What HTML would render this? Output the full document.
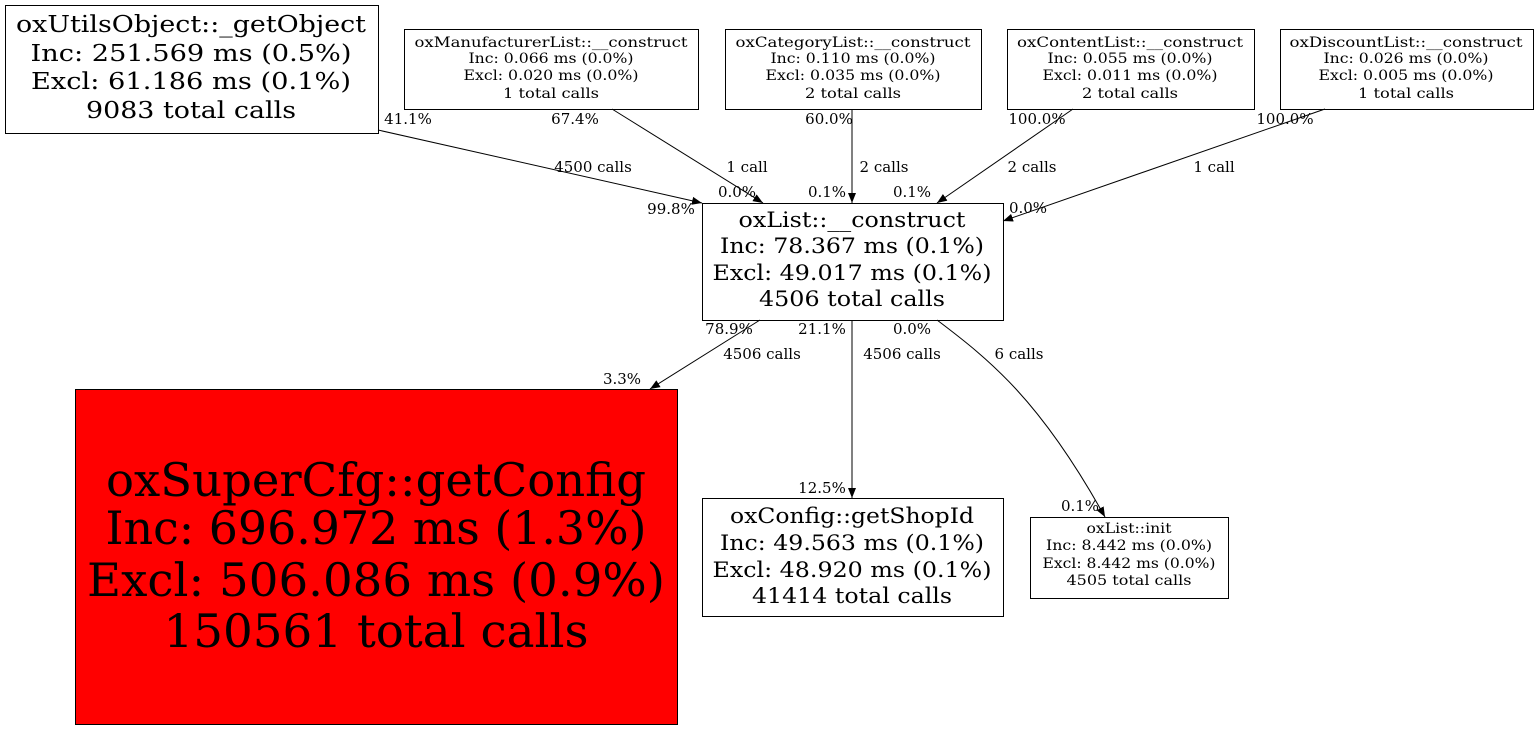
<!DOCTYPE html>
<html><head><meta charset="utf-8"><style>
html,body{margin:0;padding:0;background:#fff;}
svg{display:block;}
text{font-family:"DejaVu Serif","Liberation Serif",serif;fill:#000;}
</style></head><body>
<svg width="1539" height="731" viewBox="0 0 1539 731" xmlns="http://www.w3.org/2000/svg">
<defs><marker id="a" viewBox="0 0 10 10" refX="10" refY="5" markerWidth="10" markerHeight="10" markerUnits="userSpaceOnUse" orient="auto"><path d="M0,1 L10,5 L0,9 z" fill="#000"/></marker></defs>
<g fill="none" stroke="#000" stroke-width="1">
<rect x="5.5" y="5.5" width="373" height="128" fill="#fff"/>
<rect x="404.5" y="29.5" width="294" height="80" fill="#fff"/>
<rect x="725.5" y="29.5" width="256" height="80" fill="#fff"/>
<rect x="1007.5" y="29.5" width="247" height="80" fill="#fff"/>
<rect x="1280.5" y="29.5" width="253" height="80" fill="#fff"/>
<rect x="702.5" y="203.5" width="301" height="117" fill="#fff"/>
<rect x="75.5" y="389.5" width="602" height="335" fill="#ff0000"/>
<rect x="702.5" y="498.5" width="301" height="118" fill="#fff"/>
<rect x="1030.5" y="517.5" width="198" height="81" fill="#fff"/>
<path d="M378,130 L702,203" marker-end="url(#a)"/>
<path d="M612,109 L763,203" marker-end="url(#a)"/>
<path d="M852,109 L852,203" marker-end="url(#a)"/>
<path d="M1073,109 L937,203" marker-end="url(#a)"/>
<path d="M1325,109 L1003,221" marker-end="url(#a)"/>
<path d="M760,320 L650,389" marker-end="url(#a)"/>
<path d="M852,320 L852,498" marker-end="url(#a)"/>
<path d="M937,320 C990,360 1040,400 1105,517" marker-end="url(#a)"/>
</g>
<g text-anchor="middle">
<g font-size="23">
<text x="191" y="32" textLength="350" lengthAdjust="spacingAndGlyphs">oxUtilsObject::_getObject</text>
<text x="191" y="61" textLength="321" lengthAdjust="spacingAndGlyphs">Inc: 251.569 ms (0.5%)</text>
<text x="191" y="89" textLength="320" lengthAdjust="spacingAndGlyphs">Excl: 61.186 ms (0.1%)</text>
<text x="191" y="118" textLength="210" lengthAdjust="spacingAndGlyphs">9083 total calls</text></g>
<g font-size="14">
<text x="551" y="47" textLength="273" lengthAdjust="spacingAndGlyphs">oxManufacturerList::__construct</text>
<text x="551" y="63" textLength="165" lengthAdjust="spacingAndGlyphs">Inc: 0.066 ms (0.0%)</text>
<text x="551" y="80" textLength="175" lengthAdjust="spacingAndGlyphs">Excl: 0.020 ms (0.0%)</text>
<text x="551" y="98" textLength="96" lengthAdjust="spacingAndGlyphs">1 total calls</text>
<text x="853" y="47" textLength="235" lengthAdjust="spacingAndGlyphs">oxCategoryList::__construct</text>
<text x="853" y="63" textLength="165" lengthAdjust="spacingAndGlyphs">Inc: 0.110 ms (0.0%)</text>
<text x="853" y="80" textLength="175" lengthAdjust="spacingAndGlyphs">Excl: 0.035 ms (0.0%)</text>
<text x="853" y="98" textLength="96" lengthAdjust="spacingAndGlyphs">2 total calls</text>
<text x="1130" y="47" textLength="226" lengthAdjust="spacingAndGlyphs">oxContentList::__construct</text>
<text x="1130" y="63" textLength="165" lengthAdjust="spacingAndGlyphs">Inc: 0.055 ms (0.0%)</text>
<text x="1130" y="80" textLength="175" lengthAdjust="spacingAndGlyphs">Excl: 0.011 ms (0.0%)</text>
<text x="1130" y="98" textLength="96" lengthAdjust="spacingAndGlyphs">2 total calls</text>
<text x="1406" y="47" textLength="233" lengthAdjust="spacingAndGlyphs">oxDiscountList::__construct</text>
<text x="1406" y="63" textLength="165" lengthAdjust="spacingAndGlyphs">Inc: 0.026 ms (0.0%)</text>
<text x="1406" y="80" textLength="175" lengthAdjust="spacingAndGlyphs">Excl: 0.005 ms (0.0%)</text>
<text x="1406" y="98" textLength="96" lengthAdjust="spacingAndGlyphs">1 total calls</text>
<text x="1129" y="533" textLength="85" lengthAdjust="spacingAndGlyphs">oxList::init</text>
<text x="1129" y="550" textLength="166" lengthAdjust="spacingAndGlyphs">Inc: 8.442 ms (0.0%)</text>
<text x="1129" y="568" textLength="173" lengthAdjust="spacingAndGlyphs">Excl: 8.442 ms (0.0%)</text>
<text x="1129" y="585" textLength="125" lengthAdjust="spacingAndGlyphs">4505 total calls</text>
</g>
<g font-size="21">
<text x="852" y="227" textLength="227" lengthAdjust="spacingAndGlyphs">oxList::__construct</text>
<text x="852" y="253" textLength="264" lengthAdjust="spacingAndGlyphs">Inc: 78.367 ms (0.1%)</text>
<text x="852" y="280" textLength="279" lengthAdjust="spacingAndGlyphs">Excl: 49.017 ms (0.1%)</text>
<text x="852" y="306" textLength="186" lengthAdjust="spacingAndGlyphs">4506 total calls</text></g>
<g font-size="46">
<text x="376" y="496" textLength="540" lengthAdjust="spacingAndGlyphs">oxSuperCfg::getConfig</text>
<text x="376" y="544" textLength="541" lengthAdjust="spacingAndGlyphs">Inc: 696.972 ms (1.3%)</text>
<text x="376" y="596" textLength="578" lengthAdjust="spacingAndGlyphs">Excl: 506.086 ms (0.9%)</text>
<text x="376" y="647" textLength="425" lengthAdjust="spacingAndGlyphs">150561 total calls</text></g>
<g font-size="21">
<text x="852" y="523" textLength="244" lengthAdjust="spacingAndGlyphs">oxConfig::getShopId</text>
<text x="852" y="550" textLength="264" lengthAdjust="spacingAndGlyphs">Inc: 49.563 ms (0.1%)</text>
<text x="852" y="577" textLength="279" lengthAdjust="spacingAndGlyphs">Excl: 48.920 ms (0.1%)</text>
<text x="852" y="603" textLength="200" lengthAdjust="spacingAndGlyphs">41414 total calls</text></g>
<g font-size="15">
<text x="408" y="124">41.1%</text><text x="593" y="172">4500 calls</text><text x="671" y="214">99.8%</text>
<text x="575" y="124">67.4%</text><text x="747" y="172">1 call</text><text x="737" y="197">0.0%</text>
<text x="829" y="124">60.0%</text><text x="884" y="172">2 calls</text><text x="827" y="197">0.1%</text>
<text x="1037" y="124">100.0%</text><text x="1032" y="172">2 calls</text><text x="912" y="197">0.1%</text>
<text x="1285" y="124">100.0%</text><text x="1214" y="172">1 call</text><text x="1028" y="213">0.0%</text>
<text x="729" y="334">78.9%</text><text x="762" y="359">4506 calls</text><text x="622" y="384">3.3%</text>
<text x="822" y="334">21.1%</text><text x="902" y="359">4506 calls</text><text x="822" y="493">12.5%</text>
<text x="912" y="334">0.0%</text><text x="1019" y="359">6 calls</text><text x="1080" y="511">0.1%</text>
</g>
</g>
</svg>
</body></html>
